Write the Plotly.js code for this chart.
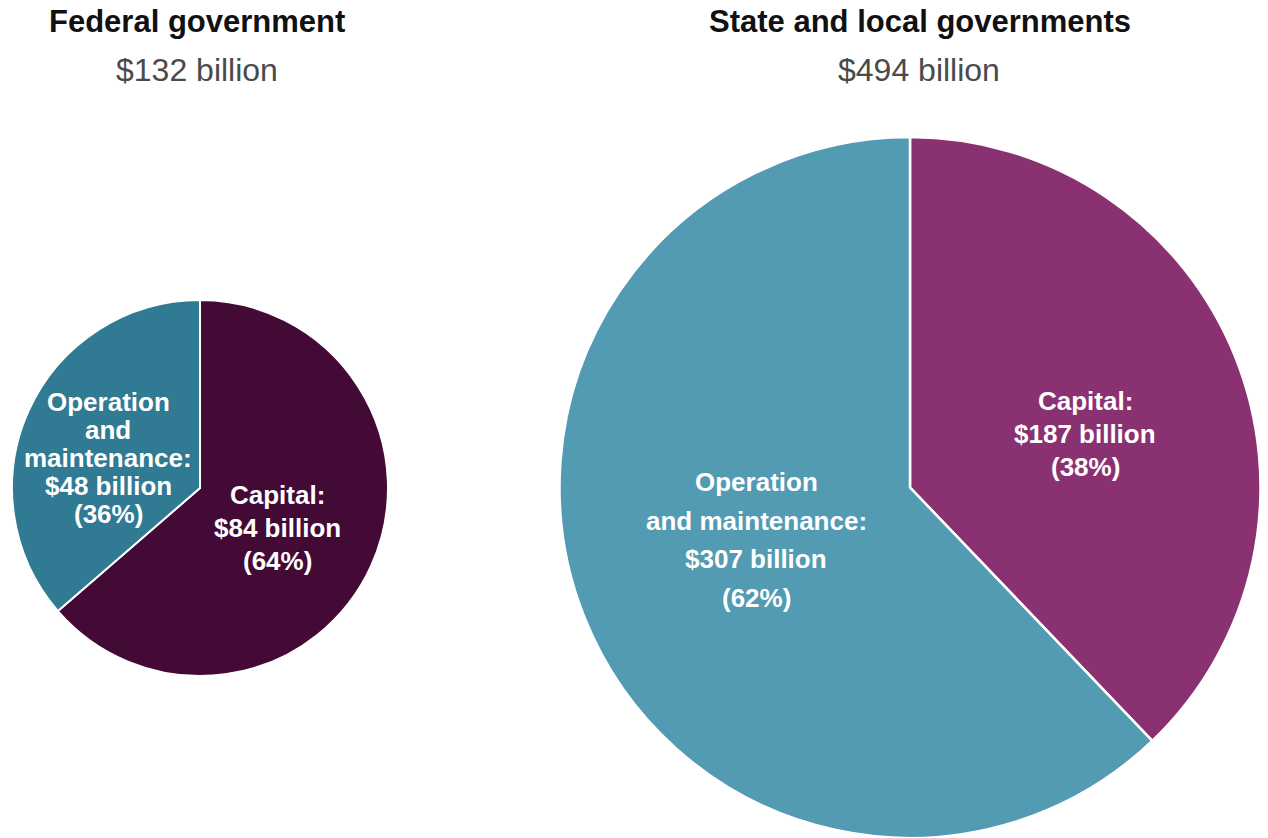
<!DOCTYPE html>
<html>
<head>
<meta charset="utf-8">
<script src="https://cdn.plot.ly/plotly-3.0.1.min.js"></script>
<style>html,body{margin:0;padding:0;background:#fff;}#chart{width:1268px;height:838px;}</style>
</head>
<body>
<div id="chart"></div>
<script>
// ---- data ----
var categories = ["Capital", "Operation and maintenance"];
var federalValues = [84, 48];
var stateLocalValues = [187, 307];
var groupTitles = ["Federal government", "State and local governments"];
var groupTotals = ["$132 billion", "$494 billion"];
var federalLabelLines = [
  ["Capital:", "$84 billion", "(64%)"],
  ["Operation", "and", "maintenance:", "$48 billion", "(36%)"]
];
var stateLabelLines = [
  ["Capital:", "$187 billion", "(38%)"],
  ["Operation", "and maintenance:", "$307 billion", "(62%)"]
];

// ---- layout helpers (pixel -> paper) ----
var W = 1268, H = 838;
function px(x) { return x / W; }
function py(y) { return 1 - y / H; }

var FONT = "Liberation Sans, Arial, sans-serif";

var traces = [
  {
    type: "pie", labels: categories, values: federalValues, sort: false,
    direction: "clockwise", rotation: 0, textinfo: "none", hoverinfo: "label+value+percent",
    marker: { colors: ["#420a35", "#317a93"], line: { color: "#ffffff", width: 2 } },
    domain: { x: [px(12), px(388)], y: [py(676), py(300)] },
    showlegend: false
  },
  {
    type: "pie", labels: categories, values: stateLocalValues, sort: false,
    direction: "clockwise", rotation: 0, textinfo: "none", hoverinfo: "label+value+percent",
    marker: { colors: ["#8a3271", "#539ab3"], line: { color: "#ffffff", width: 2.5 } },
    domain: { x: [px(559), px(1261)], y: [0, py(137)] },
    showlegend: false
  }
];

var annotations = [];
function addText(text, x, y, size, color, bold) {
  annotations.push({
    text: bold ? "<b>" + text + "</b>" : text,
    x: px(x), y: py(y), xref: "paper", yref: "paper",
    xanchor: "center", yanchor: "middle", showarrow: false,
    font: { family: FONT, size: size, color: color }
  });
}
function addBlock(lines, cx, firstY, spacing) {
  lines.forEach(function (t, i) { addText(t, cx, firstY + i * spacing, 26, "#ffffff", true); });
}

// titles
addText(groupTitles[0], 197, 22, 31, "#111111", true);
addText(groupTotals[0], 197, 70, 32, "#4a4a4a", false);
addText(groupTitles[1], 920, 22, 31, "#111111", true);
addText(groupTotals[1], 919, 70, 32, "#4a4a4a", false);

// slice labels
addBlock(federalLabelLines[0], 277, 495, 33);
addBlock(federalLabelLines[1], 108, 402, 28);
addBlock(stateLabelLines[0], 1085, 401, 33);
addBlock(stateLabelLines[1], 756, 482, 38.5);

var layout = {
  width: W, height: H,
  margin: { l: 0, r: 0, t: 0, b: 0 },
  paper_bgcolor: "#ffffff",
  showlegend: false,
  annotations: annotations
};

Plotly.newPlot("chart", traces, layout, { displayModeBar: false, staticPlot: true });
</script>
</body>
</html>
